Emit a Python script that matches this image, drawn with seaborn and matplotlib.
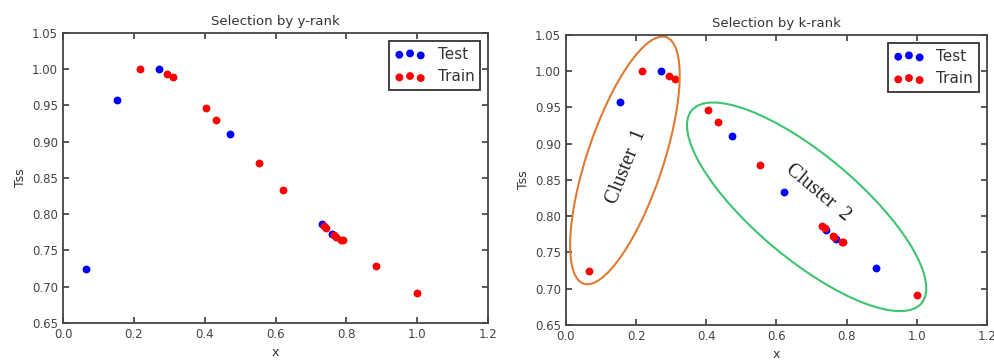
import numpy as np
import pandas as pd
import seaborn as sns
import matplotlib.pyplot as plt
from matplotlib.patches import Ellipse
from matplotlib.transforms import ScaledTranslation

# data (same points in both panels, different split)
x_vals = [0.065, 0.153, 0.218, 0.272, 0.293, 0.311, 0.405, 0.433, 0.472, 0.553, 0.622,
          0.731, 0.737, 0.742, 0.760, 0.765, 0.770, 0.786, 0.790, 0.885, 1.000]
tss_vals = [0.725, 0.957, 1.000, 1.000, 0.994, 0.989, 0.946, 0.930, 0.910, 0.870, 0.834,
            0.787, 0.784, 0.781, 0.773, 0.772, 0.769, 0.764, 0.764, 0.728, 0.692]
yrank_set = ['Test', 'Test', 'Train', 'Test', 'Train', 'Train', 'Train', 'Train', 'Test', 'Train', 'Train',
             'Test', 'Train', 'Train', 'Test', 'Train', 'Train', 'Train', 'Train', 'Train', 'Train']
krank_set = ['Train', 'Test', 'Train', 'Test', 'Train', 'Train', 'Train', 'Train', 'Test', 'Train', 'Test',
             'Train', 'Train', 'Test', 'Train', 'Train', 'Test', 'Train', 'Train', 'Test', 'Train']
titles = ['Selection by y-rank', 'Selection by k-rank']
x_ticks = [0.0, 0.2, 0.4, 0.6, 0.8, 1.0, 1.2]
y_ticks = [0.65, 0.70, 0.75, 0.80, 0.85, 0.90, 0.95, 1.00, 1.05]

sns.set_theme(style="white", rc={
    "xtick.direction": "in", "ytick.direction": "in",
    "xtick.top": True, "ytick.right": True,
    "xtick.bottom": True, "ytick.left": True,
    "xtick.major.size": 4, "ytick.major.size": 4,
    "xtick.color": "#444444", "ytick.color": "#444444",
    "axes.edgecolor": "#444444", "axes.linewidth": 1.3,
})
plt.rcParams['font.family'] = ['DejaVu Sans']

fig = plt.figure(figsize=(9.94, 3.63), dpi=100)
ax1 = fig.add_axes([0.0634, 0.1102, 0.4276, 0.7989])
ax2 = fig.add_axes([0.5694, 0.1047, 0.4235, 0.7989])

palette = {'Test': 'blue', 'Train': 'red'}

for ax, split, title in zip([ax1, ax2], [yrank_set, krank_set], titles):
    df = pd.DataFrame({'x': x_vals, 'Tss': tss_vals, 'set': split})
    for name in ['Test', 'Train']:
        sub = df[df['set'] == name]
        sns.scatterplot(data=sub, x='x', y='Tss', color=palette[name], s=32,
                        linewidth=0, label=name, ax=ax)
    ax.set_xlim(0.0, 1.2)
    ax.set_ylim(0.65, 1.05)
    ax.set_xticks(x_ticks)
    ax.set_yticks(y_ticks)
    ax.set_xticklabels([f"{t:.1f}" for t in x_ticks], fontsize=8.5, color='#444444')
    ax.set_yticklabels([f"{t:.2f}" for t in y_ticks], fontsize=8.5, color='#444444')
    ax.set_xlabel('x', fontsize=9, color='#333333')
    ax.set_ylabel('Tss', fontsize=9, color='#333333')
    ax.set_title(title, fontsize=9.5, color='#333333')
    leg = ax.legend(loc='upper right', scatterpoints=3,
                    scatteryoffsets=[0.375, 0.5, 0.3125], fontsize=11,
                    fancybox=False, framealpha=1, edgecolor='#333333')
    leg.get_frame().set_linewidth(1.3)
    for t in leg.get_texts():
        t.set_color('#333333')

# cluster annotations on the k-rank panel (sizes in inches, centred on data points)
clusters = [
    dict(cx=0.168, cy=0.877, w=2.60, h=0.76, angle=71.5, color='#dd7a33',
         label='Cluster  1', tx=0.174, ty=0.868, rot=68),
    dict(cx=0.686, cy=0.813, w=3.00, h=1.04, angle=-40, color='#3dc46e',
         label='Cluster  2', tx=0.718, ty=0.833, rot=-40),
]
for c in clusters:
    tr = fig.dpi_scale_trans + ScaledTranslation(c['cx'], c['cy'], ax2.transData)
    ax2.add_patch(Ellipse((0, 0), c['w'], c['h'], angle=c['angle'], transform=tr,
                          fill=False, edgecolor=c['color'], linewidth=1.5, clip_on=False))
    ax2.text(c['tx'], c['ty'], c['label'], rotation=c['rot'], rotation_mode='anchor',
             ha='center', va='center', fontsize=14.5, family='Liberation Serif', color='#222222')

plt.savefig("out.png", format='png', dpi=100)
